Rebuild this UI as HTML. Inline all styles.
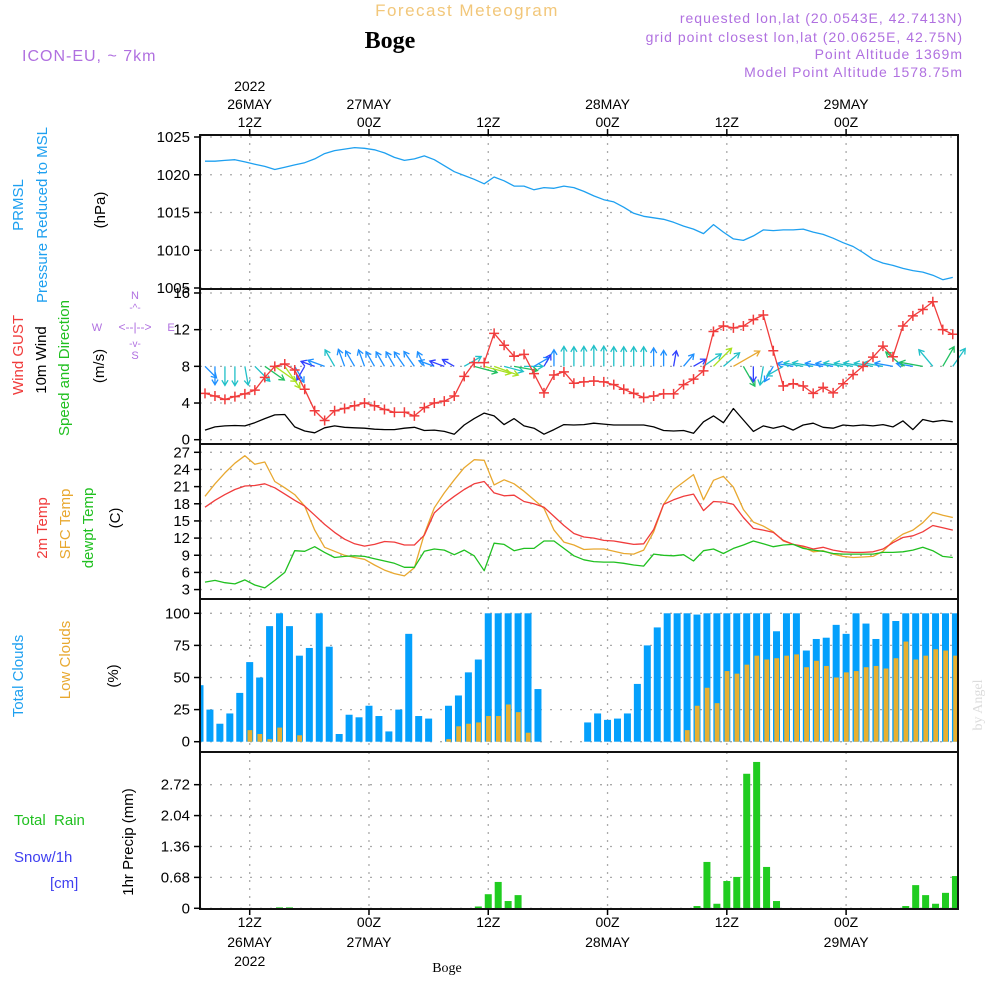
<!DOCTYPE html>
<html><head><meta charset="utf-8"><style>
html,body{margin:0;padding:0;background:#fff;}
svg{display:block;font-family:"Liberation Sans",sans-serif;}
</style></head><body>
<svg id="chart" width="1000" height="1000" viewBox="0 0 1000 1000" xmlns="http://www.w3.org/2000/svg">
<g id="hdr">
<text x="467" y="16" text-anchor="middle" font-size="17" fill="#f2c77a" letter-spacing="1.5">Forecast Meteogram</text>
<text x="390" y="48" text-anchor="middle" font-size="24" font-weight="bold" font-family="Liberation Serif, serif" fill="#000">Boge</text>
<text x="22" y="61" font-size="16" fill="#b070e0" letter-spacing="1">ICON-EU, ~ 7km</text>
<text x="963" y="23" text-anchor="end" font-size="14" fill="#b070e0" letter-spacing="1">requested lon,lat (20.0543E, 42.7413N)</text>
<text x="963" y="42" text-anchor="end" font-size="14" fill="#b070e0" letter-spacing="1">grid point closest lon,lat (20.0625E, 42.75N)</text>
<text x="963" y="59" text-anchor="end" font-size="14" fill="#b070e0" letter-spacing="1">Point Altitude 1369m</text>
<text x="963" y="77" text-anchor="end" font-size="14" fill="#b070e0" letter-spacing="1">Model Point Altitude 1578.75m</text>
</g>
<g id="grid"></g>
<g id="marks"></g>
<g id="frames"></g>
<g id="labels" font-size="15">
<g transform="translate(23,205) rotate(-90)"><text text-anchor="middle" fill="#1ea0f0">PRMSL</text></g>
<g transform="translate(47,215) rotate(-90)"><text text-anchor="middle" fill="#1ea0f0">Pressure Reduced to MSL</text></g>
<g transform="translate(105,210) rotate(-90)"><text text-anchor="middle" fill="#000">(hPa)</text></g>
<g transform="translate(23,355) rotate(-90)"><text text-anchor="middle" fill="#f03c3c">Wind GUST</text></g>
<g transform="translate(46,360) rotate(-90)"><text text-anchor="middle" fill="#000">10m Wind</text></g>
<g transform="translate(69,368) rotate(-90)"><text text-anchor="middle" fill="#20c020">Speed and Direction</text></g>
<g transform="translate(104,366) rotate(-90)"><text text-anchor="middle" fill="#000">(m/s)</text></g>
<g font-size="11" fill="#b070e0">
<text x="97" y="331" text-anchor="middle">W</text><text x="171" y="331" text-anchor="middle">E</text>
<text x="135" y="299" text-anchor="middle">N</text><text x="135" y="359" text-anchor="middle">S</text>
<text x="135" y="331" text-anchor="middle" font-size="12">&lt;--|--&gt;</text>
<text x="135" y="311" text-anchor="middle" font-size="10">-^-</text>
<text x="135" y="347" text-anchor="middle" font-size="10">-v-</text>
</g>
<g transform="translate(47,528) rotate(-90)"><text text-anchor="middle" fill="#f03c3c">2m Temp</text></g>
<g transform="translate(70,524) rotate(-90)"><text text-anchor="middle" fill="#e8a830">SFC Temp</text></g>
<g transform="translate(93,528) rotate(-90)"><text text-anchor="middle" fill="#20c020">dewpt Temp</text></g>
<g transform="translate(120,518) rotate(-90)"><text text-anchor="middle" fill="#000">(C)</text></g>
<g transform="translate(23,676) rotate(-90)"><text text-anchor="middle" fill="#1ea0f0">Total Clouds</text></g>
<g transform="translate(70,660) rotate(-90)"><text text-anchor="middle" fill="#e8a830">Low Clouds</text></g>
<g transform="translate(118,676) rotate(-90)"><text text-anchor="middle" fill="#000">(%)</text></g>
<text x="14" y="825" fill="#20c020" xml:space="preserve">Total  Rain</text>
<text x="14" y="862" fill="#4040f0">Snow/1h</text>
<text x="50" y="888" fill="#4040f0">[cm]</text>
<g transform="translate(133,842) rotate(-90)"><text text-anchor="middle" fill="#000">1hr Precip (mm)</text></g>
<g transform="translate(982,705) rotate(-90)"><text text-anchor="middle" fill="#dcdcdc" font-family="Liberation Serif, serif" font-size="14">by Angel</text></g>
<text x="447" y="972" text-anchor="middle" font-family="Liberation Serif, serif" font-size="14" fill="#000">Boge</text>
</g>
<g id="ticks" font-size="15"></g>
</svg>
<script>
// ---- data (hour index i = 0 at ~07Z 26MAY 2022) ----
const pressure = [1021.8,1021.8,1021.9,1022.0,1021.7,1021.4,1021.1,1020.7,1021.0,1021.3,1021.6,1022.1,1022.8,1023.2,1023.4,1023.6,1023.5,1023.3,1022.9,1022.3,1021.9,1022.1,1022.5,1022.0,1021.2,1020.4,1019.9,1019.4,1018.8,1019.7,1019.2,1018.5,1018.5,1018.0,1018.3,1018.2,1018.5,1018.3,1017.8,1017.2,1016.7,1016.4,1015.7,1014.9,1014.5,1014.3,1014.1,1013.7,1013.2,1012.8,1012.2,1013.4,1012.4,1011.5,1011.3,1011.9,1012.7,1012.6,1012.7,1012.7,1012.8,1012.4,1012.1,1011.6,1011.0,1010.5,1009.7,1008.8,1008.3,1008.0,1007.6,1007.3,1007.1,1006.7,1006.1,1006.4];
const gust = [5.05,4.76,4.4,4.7,5.0,5.4,6.8,8.0,8.25,7.6,5.5,3.16,2.1,3.16,3.4,3.7,4.0,3.7,3.3,3.0,3.0,2.6,3.5,4.0,4.2,4.76,6.9,8.4,8.4,11.6,10.3,9.1,9.3,7.2,5.1,7.05,7.4,6.15,6.3,6.4,6.3,6.0,5.5,5.05,4.6,4.76,5.0,5.0,6.0,6.6,7.5,11.8,12.4,12.2,12.4,13.1,13.6,9.7,5.85,6.1,5.85,5.05,5.7,5.1,6.1,7.1,8.0,9.0,10.2,9.05,12.4,13.5,14.2,15.05,12.0,11.5];
const wind10 = [1.05,1.4,1.5,1.55,1.5,1.85,2.3,2.7,2.75,1.4,0.95,0.75,1.3,1.5,1.35,1.3,1.25,1.15,1.1,1.1,1.25,1.35,1.0,1.05,0.9,0.6,1.6,2.3,2.9,2.6,1.65,2.3,1.5,1.25,0.6,1.1,1.65,1.6,1.65,1.8,1.7,1.6,1.6,1.6,1.6,1.4,1.0,0.95,1.0,0.7,1.95,2.6,1.85,3.4,2.15,0.9,1.5,1.25,1.5,1.05,1.6,1.8,1.35,1.25,1.6,1.5,1.6,1.5,1.65,1.4,2.05,1.1,2.2,1.95,2.1,1.95];
const windDir = [315,0,0,0,350,315,305,305,325,330,30,110,110,150,160,150,160,150,150,150,145,145,155,110,110,120,240,285,285,290,285,280,270,240,210,180,180,180,180,180,180,180,180,180,180,180,180,190,220,240,235,225,230,240,330,0,10,30,60,100,100,100,100,100,100,100,100,100,100,100,130,100,100,140,210,215];
const temp2m = [17.4,18.6,19.6,20.5,21.1,21.2,21.5,20.8,19.7,18.6,17.6,16.0,14.4,13.0,11.8,11.0,10.6,10.9,11.4,11.3,10.8,10.8,12.5,16.4,18.0,19.3,20.5,21.5,21.9,19.9,19.4,19.5,18.4,18.0,17.4,15.8,14.2,12.8,12.2,12.0,11.6,11.5,11.2,10.9,11.0,13.5,17.9,18.7,19.3,19.7,16.8,18.4,18.3,17.9,15.6,13.7,13.4,13.0,11.6,10.9,10.6,10.1,10.4,9.9,9.6,9.5,9.5,9.6,10.1,11.2,12.1,12.4,13.1,14.2,13.8,13.4];
const sfcTemp = [19.3,21.5,23.4,25.1,26.4,24.9,25.3,21.9,20.8,19.6,17.6,13.4,10.4,9.7,9.0,8.6,8.3,7.3,6.4,5.8,5.4,6.8,12.7,17.3,19.9,22.2,24.3,25.7,25.6,21.3,22.2,21.5,20.2,18.7,17.2,13.4,11.3,10.8,10.0,10.1,10.1,9.7,9.3,9.2,9.9,13.1,17.9,20.5,21.8,23.1,18.7,22.1,22.8,20.9,17.0,14.8,14.1,13.1,11.5,10.9,10.4,9.6,9.8,9.2,8.8,8.6,8.7,8.8,9.7,11.5,12.7,13.4,14.7,16.5,16.0,15.6];
const dewpt = [4.3,4.6,4.2,4.0,4.7,3.8,3.3,4.6,6.0,9.8,9.7,10.5,9.5,8.6,8.8,8.9,8.8,8.4,8.0,7.6,6.9,6.9,9.7,10.1,9.9,9.1,9.9,8.9,6.3,11.1,10.9,9.8,10.2,10.2,11.5,11.5,10.2,8.9,8.2,7.9,7.8,7.8,7.6,7.3,7.1,9.2,9.0,8.9,9.1,8.0,9.8,10.1,9.3,10.2,10.8,11.5,11.0,10.5,10.8,10.9,10.2,9.9,9.7,9.3,9.2,9.2,9.2,9.2,9.5,9.5,9.6,9.9,10.4,9.8,8.8,8.6];
const totalClouds = [44,25,14,22,38,62,50,90,100,90,67,73,100,74,6,21,19,28,20,8,25,84,20,18,0,28,36,54,64,100,100,100,100,100,41,0,0,0,0,15,22,17,18,22,45,75,89,100,100,100,99,100,100,100,100,100,100,100,86,100,100,71,80,81,91,84,100,92,80,100,94,100,100,100,100,100,100];
const lowClouds = [0,0,0,0,0,9,6,2,11,0,5,0,0,0,0,0,0,0,0,0,0,0,0,0,0,2,12,14,15,20,20,29,23,7,0,0,0,0,0,0,0,0,0,0,0,0,0,0,0,9,28,42,30,55,53,60,67,64,65,67,68,58,63,59,50,54,55,58,59,57,65,78,64,67,72,71,67];
const precip = [0,0,0,0,0,0,0,0,0.02,0.02,0,0,0,0,0,0,0,0,0,0,0,0,0,0,0,0,0,0,0.04,0.31,0.58,0.16,0.29,0,0,0,0,0,0,0,0,0,0,0,0,0,0,0,0,0,0.05,1.02,0.1,0.6,0.69,2.96,3.22,0.91,0.16,0,0,0,0,0,0,0,0,0,0,0,0,0.05,0.51,0.29,0.1,0.34,0.71];
const pTicks = [1025,1020,1015,1010,1005];
const wTicks = [16,12,8,4,0];
const tTicks = [27,24,21,18,15,12,9,6,3];
const cTicks = [100,75,50,25,0];
const rTicks = [2.72,2.04,1.36,0.68,0];
const timeHours = [5,17,29,41,53,65];
const topDay = ["26MAY","27MAY","","28MAY","","29MAY"];
const topHour = ["12Z","00Z","12Z","00Z","12Z","00Z"];

// ---- axes ----
const X0=200, X1=958;
const xb = h => 200 + h*9.94;
const xl = i => 205 + i*9.97;
const pY = v => 137 + (1025-v)*7.55;
const wY = v => 439.7 - v*9.17;
const tY = v => 452.3 + (27-v)*5.72;
const cY = v => 741.7 - v*1.284;
const rY = v => 908.3 - v*45.45;
const panels = [[135,289],[289,444],[444,599],[599,752],[752,909]];

const NS="http://www.w3.org/2000/svg";
function mk(parent,tag,attrs){const e=document.createElementNS(NS,tag);for(const k in attrs)e.setAttribute(k,attrs[k]);parent.appendChild(e);return e;}
const G=document.getElementById('grid'), M=document.getElementById('marks'), F=document.getElementById('frames'), T=document.getElementById('ticks');

panels.forEach(p=>{
  timeHours.forEach(h=>{
    const l=mk(G,'line',{x1:xb(h),x2:xb(h),y1:p[0],y2:p[1],stroke:'#aaa','stroke-width':1.3,'stroke-dasharray':'2,6'});
    
    
  });
});
function hgrid(ticks,fy,fmt){
  ticks.forEach(v=>{
    const y=fy(v);
    const l=mk(G,'line',{x1:X0,x2:X1,y1:y,y2:y,stroke:'#aaa','stroke-width':1.3,'stroke-dasharray':'2,8'});
    
    
    mk(T,'line',{x1:X0-6,x2:X0,y1:y,y2:y,stroke:'#000','stroke-width':1.5});
    const t=mk(T,'text',{x:190,y:y+5,'text-anchor':'end',fill:'#000'});
    t.textContent=fmt?fmt(v):String(v);
    
    
  });
}
hgrid(pTicks,pY); hgrid(wTicks,wY); hgrid(tTicks,tY); hgrid(cTicks,cY);
hgrid(rTicks,rY,v=>v===0?'0':v.toFixed(2));

timeHours.forEach((h,k)=>{
  const x=xb(h);
  const a=mk(T,'text',{x:x,y:127,'text-anchor':'middle','font-size':14}); a.textContent=topHour[k];
   
  if(topDay[k]){const b=mk(T,'text',{x:x,y:109,'text-anchor':'middle','font-size':14}); b.textContent=topDay[k];
     }
  const c=mk(T,'text',{x:x,y:927,'text-anchor':'middle','font-size':14}); c.textContent=topHour[k];
   
  if(topDay[k]){const d=mk(T,'text',{x:x,y:947,'text-anchor':'middle','font-size':14}); d.textContent=topDay[k];
     }
  mk(T,'line',{x1:x,x2:x,y1:909,y2:915,stroke:'#000','stroke-width':1.5});
  mk(T,'line',{x1:x,x2:x,y1:129,y2:135,stroke:'#000','stroke-width':1.5});
});
{const y1=mk(T,'text',{x:xb(5),y:91,'text-anchor':'middle','font-size':14}); y1.textContent='2022';
  
 const y2=mk(T,'text',{x:xb(5),y:966,'text-anchor':'middle','font-size':14}); y2.textContent='2022';
  }

function poly(arr,fy,color,name,w){
  const pts=arr.map((v,i)=>xl(i).toFixed(1)+','+fy(v).toFixed(1)).join(' ');
  const p=mk(M,'polyline',{points:pts,fill:'none',stroke:color,'stroke-width':w||1.3,'stroke-linejoin':'round'});
  
  
}
poly(pressure,pY,'#1ea0f0','pressure-line');
function arrowColor(s){return s<1?'#3040ff':s<1.5?'#1e90ff':s<2?'#20c0c8':s<2.5?'#20c060':s<3?'#a8e020':'#e8a830';}
windDir.forEach((d,i)=>{
  const s=wind10[i], L=10+s*6, th=(d+180)*Math.PI/180;
  const x0=xl(i), y0=wY(8);
  const dx=Math.sin(th)*L, dy=-Math.cos(th)*L;
  const x1=x0+dx, y1=y0+dy, ang=Math.atan2(dy,dx), c=arrowColor(s);
  const g=mk(M,'g',{stroke:c,'stroke-width':1.3,fill:'none'});
  
  
  mk(g,'line',{x1:x0,y1:y0,x2:x1,y2:y1});
  mk(g,'polyline',{points:`${x1+Math.cos(ang+2.6)*6},${y1+Math.sin(ang+2.6)*6} ${x1},${y1} ${x1+Math.cos(ang-2.6)*6},${y1+Math.sin(ang-2.6)*6}`});
});
poly(wind10,wY,'#000','wind-10m-line');
poly(gust,wY,'#f03c3c','wind-gust-line');
gust.forEach((v,i)=>{
  const x=xl(i), y=wY(v);
  const p=mk(M,'path',{d:`M${x-5},${y}H${x+5}M${x},${y-5}V${y+5}`,stroke:'#f03c3c','stroke-width':1.5});
  
  
});
poly(sfcTemp,tY,'#e8a830','sfc-temp-line');
poly(temp2m,tY,'#f03c3c','temp-2m-line');
poly(dewpt,tY,'#20c020','dewpt-line');
totalClouds.forEach((v,h)=>{
  if(v<=0) return;
  const x=Math.max(X0,xb(h)-3.5), x2=Math.min(X1,xb(h)+3.5);
  const r=mk(M,'rect',{x:x,y:cY(v),width:Math.max(0,x2-x),height:cY(0)-cY(v),fill:'#04a0fc'});
  
  
});
lowClouds.forEach((v,h)=>{
  if(v<=0) return;
  const x=Math.max(X0,xb(h)-2.2), x2=Math.min(X1,xb(h)+2.6);
  const r=mk(M,'rect',{x:x,y:cY(v),width:Math.max(0,x2-x),height:cY(0)-cY(v),fill:'#e8b030'});
  
  
});
precip.forEach((v,h)=>{
  if(v<=0) return;
  const x=Math.max(X0,xb(h)-3.5), x2=Math.min(X1,xb(h)+3.5);
  const r=mk(M,'rect',{x:x,y:rY(v),width:Math.max(0,x2-x),height:rY(0)-rY(v),fill:'#20cc20'});
  
  
});
panels.forEach((p,k)=>{
  const r=mk(F,'rect',{x:X0,y:p[0],width:X1-X0,height:p[1]-p[0],fill:'none',stroke:'#111','stroke-width':2});
  
  
});
</script>
</body></html>
